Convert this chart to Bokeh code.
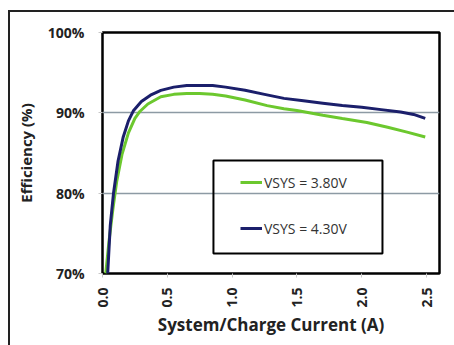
from bokeh.plotting import figure
from bokeh.models import Legend, LegendItem, BoxAnnotation, FixedTicker
from bokeh.embed import file_html
from bokeh.resources import INLINE
import math

# Efficiency vs. system/charge current for two VSYS settings
current_380 = [0.025, 0.05, 0.08, 0.11, 0.15, 0.2, 0.25, 0.29, 0.35, 0.45, 0.55, 0.65,
               0.75, 0.85, 0.95, 1.1, 1.27, 1.4, 1.5, 1.7, 1.85, 2.04, 2.2, 2.35, 2.49]
eff_380 = [70, 74, 78, 81.5, 84.8, 87.5, 89.3, 90.2, 91.1, 92.0, 92.3, 92.4,
           92.4, 92.3, 92.1, 91.6, 90.9, 90.5, 90.3, 89.7, 89.3, 88.8, 88.2, 87.6, 87.0]

current_430 = [0.04, 0.06, 0.085, 0.12, 0.16, 0.2, 0.24, 0.3, 0.37, 0.45, 0.55, 0.65,
               0.75, 0.85, 0.95, 1.1, 1.25, 1.4, 1.55, 1.7, 1.85, 2.0, 2.15, 2.3, 2.4, 2.49]
eff_430 = [70, 76, 80, 84, 87, 89, 90.3, 91.4, 92.2, 92.8, 93.2, 93.4,
           93.4, 93.4, 93.2, 92.8, 92.3, 91.8, 91.5, 91.2, 90.9, 90.7, 90.4, 90.1, 89.8, 89.3]

series_labels = ["VSYS = 3.80V", "VSYS = 4.30V"]
x_ticks = [0.0, 0.5, 1.0, 1.5, 2.0, 2.5]
y_ticks = [70, 80, 90, 100]
y_tick_labels = ["70%", "80%", "90%", "100%"]

GREEN = "#6cc82e"
NAVY = "#1b1f6b"
FONT = "Open Sans"

p = figure(frame_width=337, frame_height=241,
           x_range=(0, 2.6), y_range=(70, 100),
           min_border_left=92, min_border_right=15, min_border_top=20, min_border_bottom=72,
           output_backend="svg", toolbar_location=None,
           margin=(10, 0, 0, 8),
           styles={"border-left": "2px solid #222", "border-top": "2px solid #222"})

p.background_fill_color = "white"
p.border_fill_color = "white"
p.outline_line_color = "black"
p.outline_line_width = 2.5

# grid: only horizontal lines at the inner ticks
p.xgrid.visible = False
p.ygrid.ticker = FixedTicker(ticks=[80, 90])
p.ygrid.grid_line_color = "#8d9aa4"
p.ygrid.grid_line_width = 1.5

# axes
p.xaxis.ticker = FixedTicker(ticks=x_ticks)
p.xaxis.major_label_overrides = {t: f"{t:.1f}" for t in x_ticks}
p.xaxis.major_label_orientation = math.pi / 2
p.yaxis.ticker = FixedTicker(ticks=y_ticks)
p.yaxis.major_label_overrides = dict(zip(y_ticks, y_tick_labels))

for ax in (p.xaxis[0], p.yaxis[0]):
    ax.axis_line_color = None
    ax.minor_tick_line_color = None
    ax.major_tick_line_color = "#c8c8c8"
    ax.major_tick_in = 0
    ax.major_tick_out = 4
    ax.major_label_text_font = FONT
    ax.major_label_text_font_style = "bold"
    ax.major_label_text_font_size = "14px"
    ax.major_label_text_color = "#222222"
    ax.axis_label_text_font = FONT
    ax.axis_label_text_font_style = "bold"
    ax.axis_label_text_color = "#222222"

p.xaxis.major_label_standoff = 10
p.yaxis.major_label_standoff = 14
p.xaxis.axis_label = "System/Charge Current (A)"
p.xaxis.axis_label_text_font_size = "17px"
p.xaxis.axis_label_standoff = 2
p.yaxis.axis_label = "Efficiency (%)"
p.yaxis.axis_label_text_font_size = "15px"
p.yaxis.axis_label_standoff = 9

r1 = p.line(current_380, eff_380, line_color=GREEN, line_width=3)
r2 = p.line(current_430, eff_430, line_color=NAVY, line_width=3)

# legend frame (transparent, grid shows through)
p.add_layout(BoxAnnotation(left=0.856, right=2.16, bottom=72.5, top=84.07,
                           fill_alpha=0, line_color="black", line_alpha=1,
                           line_width=2, level="overlay"))

legend = Legend(items=[LegendItem(label=series_labels[0], renderers=[r1]),
                       LegendItem(label=series_labels[1], renderers=[r2])],
                location=(138, 35), padding=0, spacing=26,
                glyph_width=22, glyph_height=20, label_height=20, label_standoff=2,
                label_text_font=FONT, label_text_font_size="14px",
                label_text_color="#333333",
                border_line_color=None, background_fill_alpha=0)
p.add_layout(legend)

open("out.html", "w").write(file_html(p, INLINE))
